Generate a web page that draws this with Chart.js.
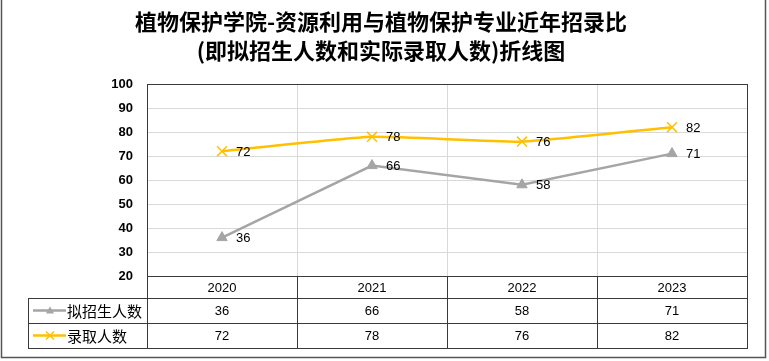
<!DOCTYPE html>
<html>
<head>
<meta charset="utf-8">
<script src="https://cdn.jsdelivr.net/npm/chart.js@4.4.1/dist/chart.umd.min.js"></script>
<style>
html,body{margin:0;padding:0;background:#fff;}
#wrap{width:769px;height:361px;position:relative;}
</style>
</head>
<body>
<div id="wrap"><canvas id="c" width="769" height="361"></canvas></div>
<script>
const titleLines = ['植物保护学院-资源利用与植物保护专业近年招录比', '(即拟招生人数和实际录取人数)折线图'];
const categories = ['2020', '2021', '2022', '2023'];
const planned = [36, 66, 58, 71];
const admitted = [72, 78, 76, 82];
const seriesNames = ['拟招生人数', '录取人数'];
const yTicks = {min: 20, max: 100, step: 10};

const GRAY = '#A5A5A5';
const GOLD = '#FFC000';
const LINE = '#3a3a3a';
const CJK = '"Noto Sans CJK SC", "Noto Sans", sans-serif';
const LAT = '"Liberation Sans", Arial, sans-serif';

const decor = {
  id: 'decor',
  afterDatasetsDraw(chart) {
    const ctx = chart.ctx;
    const a = chart.chartArea;
    const xs = chart.scales.x;
    // data labels
    ctx.save();
    ctx.font = '13px ' + LAT;
    ctx.fillStyle = '#000';
    ctx.textAlign = 'left';
    ctx.textBaseline = 'middle';
    chart.data.datasets.forEach((ds, di) => {
      const meta = chart.getDatasetMeta(di);
      meta.data.forEach((pt, i) => {
        ctx.fillText(String(ds.data[i]), pt.x + 14, pt.y + 1);
      });
    });
    ctx.restore();
  },
  afterDraw(chart) {
    const ctx = chart.ctx;
    const a = chart.chartArea;
    const xs = chart.scales.x;
    const n = categories.length;
    const colW = (a.right - a.left) / n;
    ctx.save();
    // title
    ctx.fillStyle = '#000';
    ctx.textAlign = 'center';
    ctx.textBaseline = 'middle';
    ctx.font = 'bold 22px ' + CJK;
    ctx.fillText(titleLines[0], 381, 22);
    ctx.fillText(titleLines[1], 381, 51);

    // plot border
    ctx.strokeStyle = LINE;
    ctx.lineWidth = 1;
    ctx.strokeRect(Math.round(a.left) + 0.5, Math.round(a.top) + 0.5, Math.round(a.right - a.left), Math.round(a.bottom - a.top));

    // data table
    const legL = 28;
    const r0 = Math.round(a.bottom), r1 = r0 + 22, r2 = r1 + 25, r3 = r2 + 25;
    const L = Math.round(a.left), R = Math.round(a.right);
    ctx.beginPath();
    [[L, r0], [legL, r1], [legL, r2], [legL, r3]].forEach(([x0, y]) => {
      ctx.moveTo(x0, y + 0.5); ctx.lineTo(R + 1, y + 0.5);
    });
    ctx.moveTo(legL + 0.5, r1); ctx.lineTo(legL + 0.5, r3);
    for (let i = 0; i <= n; i++) {
      const x = Math.round(a.left + colW * i) + 0.5;
      ctx.moveTo(x, r0); ctx.lineTo(x, r3);
    }
    ctx.stroke();

    ctx.font = '13px ' + LAT;
    ctx.fillStyle = '#000';
    ctx.textAlign = 'center';
    ctx.textBaseline = 'middle';
    categories.forEach((c, i) => {
      const x = xs.getPixelForValue(i);
      ctx.fillText(c, x, (r0 + r1) / 2 + 1);
      ctx.fillText(String(planned[i]), x, (r1 + r2) / 2 + 1);
      ctx.fillText(String(admitted[i]), x, (r2 + r3) / 2 + 1);
    });

    // legend keys
    const keys = [
      {y: (r1 + r2) / 2, color: GRAY, mk: 'tri', name: seriesNames[0]},
      {y: (r2 + r3) / 2, color: GOLD, mk: 'x', name: seriesNames[1]}
    ];
    keys.forEach(k => {
      ctx.strokeStyle = k.color;
      ctx.lineWidth = 2.5;
      ctx.beginPath(); ctx.moveTo(33, k.y); ctx.lineTo(66, k.y); ctx.stroke();
      const cx = 50;
      if (k.mk === 'tri') {
        ctx.fillStyle = k.color;
        ctx.beginPath(); ctx.moveTo(cx, k.y - 4); ctx.lineTo(cx + 4, k.y + 3); ctx.lineTo(cx - 4, k.y + 3); ctx.closePath(); ctx.fill();
      } else {
        ctx.lineWidth = 1.5;
        ctx.beginPath();
        ctx.moveTo(cx - 4, k.y - 4); ctx.lineTo(cx + 4, k.y + 4);
        ctx.moveTo(cx + 4, k.y - 4); ctx.lineTo(cx - 4, k.y + 4);
        ctx.stroke();
      }
      ctx.fillStyle = '#000';
      ctx.textAlign = 'left';
      ctx.font = '15px ' + CJK;
      ctx.fillText(k.name, 67, k.y + 1);
    });

    // outer border
    ctx.strokeStyle = '#555';
    ctx.lineWidth = 1.5;
    ctx.beginPath();
    ctx.moveTo(1.5, -2); ctx.lineTo(1.5, 357.5); ctx.lineTo(765.5, 357.5); ctx.lineTo(765.5, -2);
    ctx.stroke();
    ctx.restore();
  }
};

new Chart(document.getElementById('c'), {
  type: 'line',
  data: {
    labels: categories,
    datasets: [
      {
        label: seriesNames[0], data: planned,
        borderColor: GRAY, backgroundColor: GRAY, borderWidth: 2.5,
        pointStyle: 'triangle', pointRadius: 6, pointBorderWidth: 1,
        pointBackgroundColor: GRAY, pointBorderColor: GRAY, tension: 0
      },
      {
        label: seriesNames[1], data: admitted,
        borderColor: GOLD, backgroundColor: GOLD, borderWidth: 2.5,
        pointStyle: 'crossRot', pointRadius: 7, pointBorderWidth: 1.5,
        pointBorderColor: GOLD, tension: 0.15
      }
    ]
  },
  options: {
    responsive: false,
    animation: false,
    devicePixelRatio: 1,
    layout: {padding: {top: 84, right: 22, bottom: 85, left: 0}},
    plugins: {legend: {display: false}, title: {display: false}, tooltip: {enabled: false}},
    scales: {
      x: {
        offset: true,
        grid: {offset: true, color: '#d9d9d9', drawTicks: false},
        border: {display: false},
        ticks: {display: false},
        afterFit(s) { s.height = 0; }
      },
      y: {
        min: yTicks.min, max: yTicks.max,
        grid: {color: '#d9d9d9', drawTicks: false},
        border: {display: false},
        ticks: {stepSize: yTicks.step, padding: 14, color: '#000', font: {family: LAT, size: 13, weight: 'bold'}},
        afterFit(s) { s.width = 147; }
      }
    }
  },
  plugins: [decor]
});
</script>
</body>
</html>
